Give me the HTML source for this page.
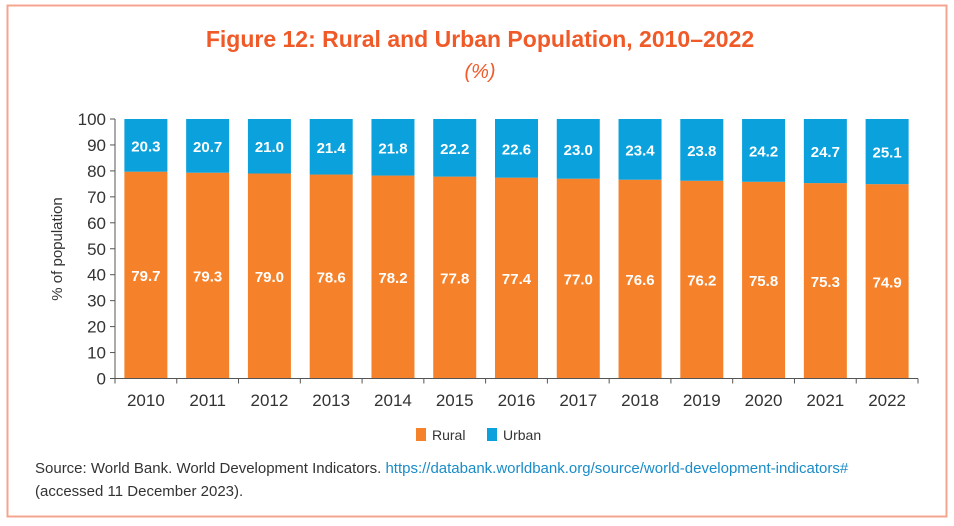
<!DOCTYPE html>
<html><head><meta charset="utf-8"><style>
body{margin:0;background:#fff;font-family:"Liberation Sans",sans-serif;}
#wrap{position:relative;width:954px;height:526px;overflow:hidden;}
</style></head><body>
<div id="wrap">
<svg id="chart" width="954" height="526">
<rect x="7.5" y="5.5" width="939" height="511" fill="none" stroke="#f4a58f" stroke-width="2"/>
<text x="480" y="47" text-anchor="middle" font-size="23" font-weight="bold" fill="#f05a28">Figure 12: Rural and Urban Population, 2010–2022</text>
<text x="480" y="78" text-anchor="middle" font-size="20" font-style="italic" fill="#f05a28">(%)</text>
<text transform="translate(62,249) rotate(-90)" text-anchor="middle" font-size="15" fill="#333">% of population</text>
<g id="bars"></g>
<g id="axes"></g>
<rect x="416" y="428" width="10" height="13" fill="#f5822a"/>
<text x="432" y="440" font-size="14" fill="#333">Rural</text>
<rect x="487" y="428" width="10" height="13" fill="#0aa1dc"/>
<text x="503" y="440" font-size="14" fill="#333">Urban</text>
<text x="35" y="473" font-size="15" fill="#333">Source: World Bank. World Development Indicators. <tspan fill="#1a8cc8">https://databank.worldbank.org/source/world-development-indicators#</tspan></text>
<text x="35" y="496" font-size="15" fill="#333">(accessed 11 December 2023).</text>
</svg>
</div>
<script>
const years=["2010","2011","2012","2013","2014","2015","2016","2017","2018","2019","2020","2021","2022"];
const rural=[79.7,79.3,79.0,78.6,78.2,77.8,77.4,77.0,76.6,76.2,75.8,75.3,74.9];
const urban=[20.3,20.7,21.0,21.4,21.8,22.2,22.6,23.0,23.4,23.8,24.2,24.7,25.1];
const yTicks=[0,10,20,30,40,50,60,70,80,90,100];
const NS="http://www.w3.org/2000/svg";
const X0=115,X1=918,Y0=378.5,Y1=119;
const band=(X1-X0)/years.length, bw=43;
const y=v=>Y0-(v/100)*(Y0-Y1);
const x=i=>X0+band*i+band/2;
const bars=document.getElementById('bars'),axes=document.getElementById('axes');
function mk(tag,attrs,parent,txt){const e=document.createElementNS(NS,tag);for(const k in attrs)e.setAttribute(k,attrs[k]);if(txt!==undefined)e.textContent=txt;parent.appendChild(e);return e;}
years.forEach((yr,i)=>{
  const cx=x(i);
  let r=mk('rect',{x:cx-bw/2,y:y(rural[i]),width:bw,height:Y0-y(rural[i]),fill:'#f5822a'},bars);
  
  
  let u=mk('rect',{x:cx-bw/2,y:y(rural[i]+urban[i]),width:bw,height:y(rural[i])-y(rural[i]+urban[i]),fill:'#0aa1dc'},bars);
  
  
  let lr=mk('text',{x:cx,y:y(rural[i]/2)+6,'text-anchor':'middle','font-size':15,'font-weight':'bold',fill:'#fff'},bars,rural[i].toFixed(1));
  
  
  let lu=mk('text',{x:cx,y:y(rural[i]+urban[i]/2)+6,'text-anchor':'middle','font-size':15,'font-weight':'bold',fill:'#fff'},bars,urban[i].toFixed(1));
  
  
  let t=mk('text',{x:cx,y:406,'text-anchor':'middle','font-size':17,fill:'#333'},axes,yr);
  
  
});
for(let i=0;i<=years.length;i++){
  let tk=mk('line',{x1:X0+band*i,x2:X0+band*i,y1:Y0,y2:Y0+5,stroke:'#555','stroke-width':1},axes);
  
  
}
yTicks.forEach(v=>{
  let tl=mk('line',{x1:X0-5,x2:X0,y1:y(v),y2:y(v),stroke:'#555','stroke-width':1},axes);
  
  
  let tt=mk('text',{x:X0-9,y:y(v)+6,'text-anchor':'end','font-size':17,fill:'#333'},axes,v);
  
  
});
let ya=mk('line',{x1:X0,x2:X0,y1:Y1,y2:Y0,stroke:'#555','stroke-width':1},axes);


let xa=mk('line',{x1:X0,x2:X1,y1:Y0,y2:Y0,stroke:'#555','stroke-width':1},axes);


</script>
</body></html>
